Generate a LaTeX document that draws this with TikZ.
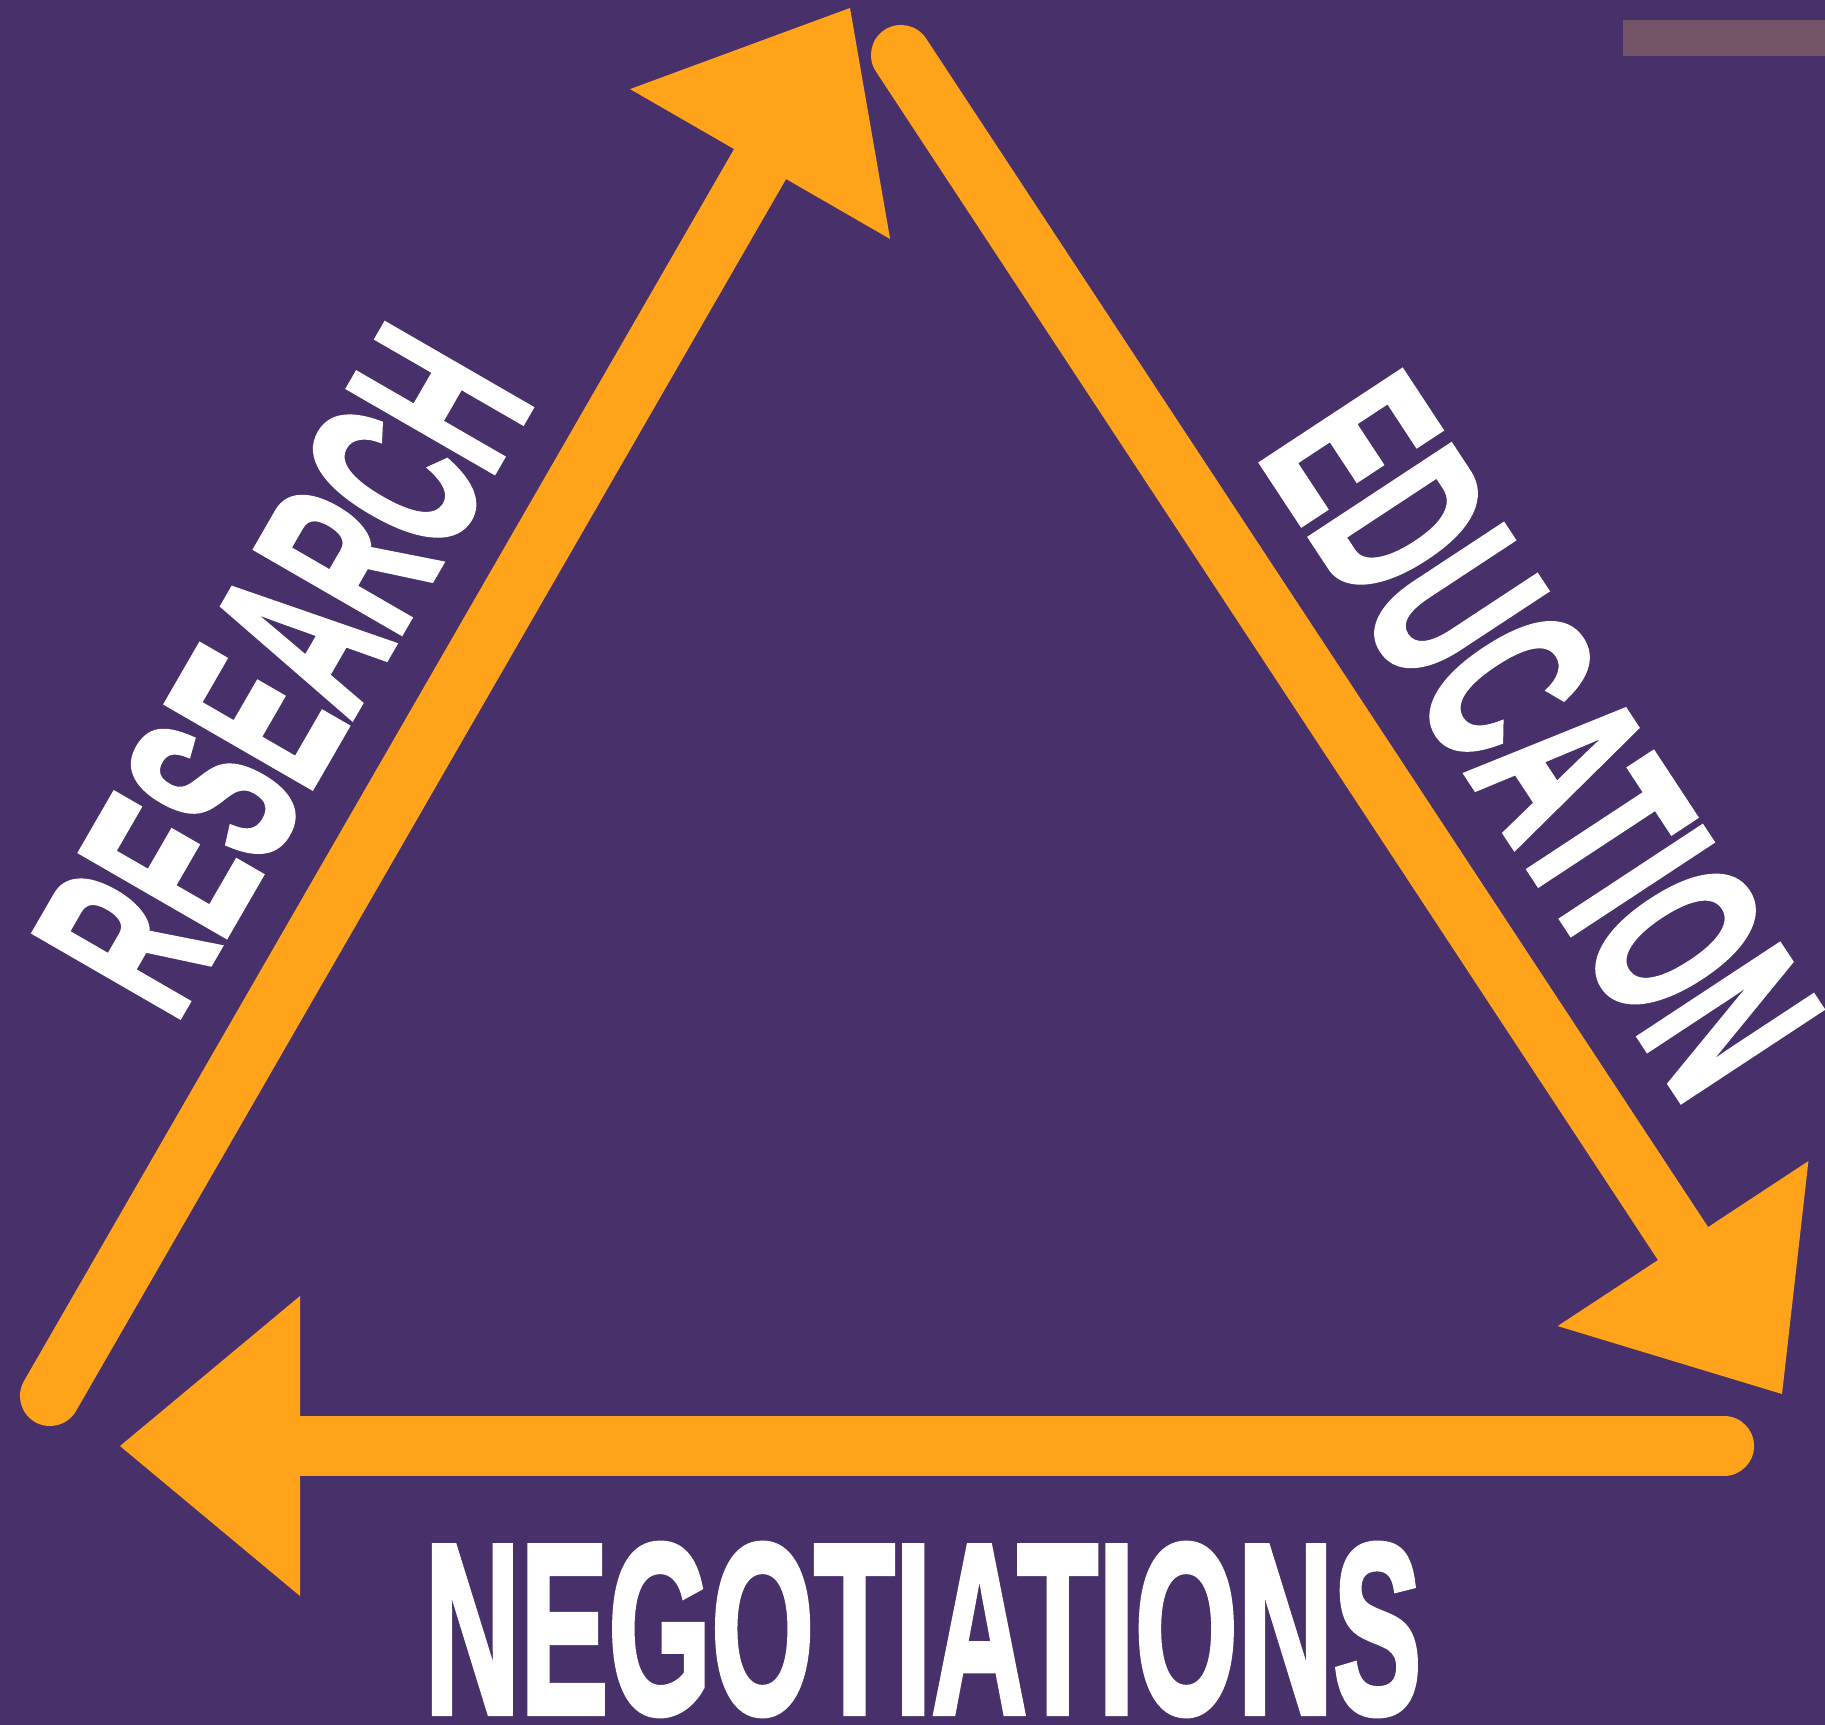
\documentclass[tikz,border=0pt]{standalone}
\usepackage{fontspec}
\setmainfont{Liberation Sans}
\newfontfamily\wordfont[FakeBold=2.5]{Liberation Sans Bold}
\usetikzlibrary{calc}
\definecolor{bgpurple}{HTML}{48316A}
\definecolor{arroworange}{HTML}{FFA31A}
\definecolor{tabmauve}{HTML}{735466}
% tall narrow capitals for the three words, optional arg = squeeze
\newcommand{\biglabel}[2][0.53]{\scalebox{#1}[1]{\fontsize{69}{69}\wordfont #2}}

\begin{document}
\begin{tikzpicture}[x=0.01cm,y=-0.01cm,
    shaft/.style={draw=arroworange,line width=0.6cm,line cap=round},
    head/.style={fill=arroworange},
    word/.style={text=white,inner sep=0pt,anchor=base}]
  \fill[bgpurple] (0,0) rectangle (1825,1725);
  \useasboundingbox (0,0) rectangle (1825,1725);
  \fill[tabmauve] (1623,20) rectangle (1825,56);
  % tails and tips of the three arrows
  \coordinate (rt) at (50,1396);
  \coordinate (rh) at (850,8);
  \coordinate (et) at (901,55);
  \coordinate (eh) at (1782,1394);
  \coordinate (nt) at (1724,1446);
  \coordinate (nh) at (120,1446);
  \foreach \t/\h in {rt/rh,et/eh,nt/nh}{
    \coordinate (b) at ($(\h)!1.8cm!(\t)$);
    \draw[shaft] (\t) -- (b);
    \fill[head] (\h) -- ($(b)!1.5cm!90:(\h)$) -- ($(b)!1.5cm!-90:(\h)$) -- cycle;
  }
  \node[word,rotate=60] (research) at (355,712) {\biglabel{RESEARCH}};
  \node[word,rotate=-56.66] (education) at (1472,782) {\biglabel[0.55]{EDUCATION}};
  \node[word] (negotiations) at (923,1713) {\biglabel[0.545]{NEGOTIATIONS}};
\end{tikzpicture}
\end{document}
